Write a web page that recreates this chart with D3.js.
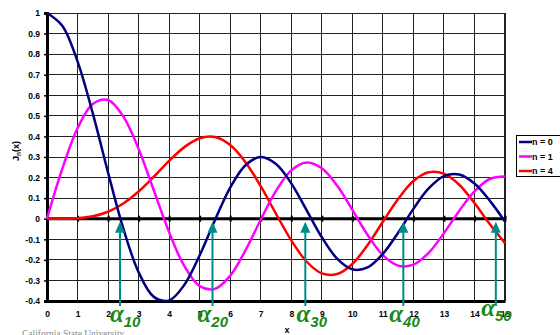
<!DOCTYPE html>
<html>
<head>
<meta charset="utf-8">
<script src="https://cdn.jsdelivr.net/npm/d3@7"></script>
<style>
  body { margin: 0; background: #fff; }
</style>
</head>
<body>
<svg id="Bessel" width="560" height="335" font-family="Arial, 'Liberation Sans', sans-serif"></svg>
<script>
// values, every 0.5 in x
var xs = [0, 0.5, 1, 1.5, 2, 2.5, 3, 3.5, 4, 4.5, 5, 5.5, 6, 6.5, 7, 7.5, 8, 8.5, 9, 9.5, 10, 10.5, 11, 11.5, 12, 12.5, 13, 13.5, 14, 14.5, 15];
var j0 = [1, 0.938, 0.765, 0.512, 0.224, -0.048, -0.260, -0.380, -0.397, -0.321, -0.178, -0.007, 0.151, 0.260, 0.300, 0.266, 0.172, 0.042, -0.090, -0.194, -0.246, -0.237, -0.171, -0.068, 0.048, 0.147, 0.207, 0.215, 0.171, 0.088, -0.014];
var j1 = [0, 0.242, 0.440, 0.558, 0.577, 0.497, 0.339, 0.137, -0.066, -0.231, -0.328, -0.341, -0.277, -0.154, -0.005, 0.135, 0.235, 0.273, 0.245, 0.161, 0.043, -0.079, -0.177, -0.228, -0.223, -0.166, -0.070, 0.038, 0.133, 0.193, 0.205];
var j4 = [0, 0.0002, 0.0025, 0.012, 0.034, 0.074, 0.132, 0.204, 0.281, 0.348, 0.391, 0.397, 0.358, 0.275, 0.158, 0.024, -0.105, -0.208, -0.266, -0.269, -0.220, -0.128, -0.015, 0.096, 0.183, 0.226, 0.219, 0.165, 0.076, -0.026, -0.119];

var seriesNames = ["n = 0", "n = 1", "n = 4"];
var seriesColors = ["#000080", "#ff00ff", "#ff0000"];

var xTicks = [0, 1, 2, 3, 4, 5, 6, 7, 8, 9, 10, 11, 12, 13, 14, 15];
var yTicks = [-0.4, -0.3, -0.2, -0.1, 0, 0.1, 0.2, 0.3, 0.4, 0.5, 0.6, 0.7, 0.8, 0.9, 1];
var yTickLabels = ["-0.4", "-0.3", "-0.2", "-0.1", "0", "0.1", "0.2", "0.3", "0.4", "0.5", "0.6", "0.7", "0.8", "0.9", "1"];

// green arrows under the zeros of J0
var arrowX = [2.39, 5.42, 8.46, 11.67, 14.7];
var arrowSub = ["10", "20", "30", "40", "50"];
var arrowLabelX = [2.06, 4.93, 8.17, 11.21, 14.22];

var svg = d3.select("#Bessel");
var x = d3.scaleLinear().domain([0, 15]).range([47, 505]);
var y = d3.scaleLinear().domain([-0.4, 1]).range([301, 13]);

svg.append("rect").attr("width", 560).attr("height", 335).attr("fill", "#fff");

var grid = svg.append("g").attr("stroke", "#222").attr("stroke-width", 1).attr("shape-rendering", "crispEdges");
grid.selectAll(".vg").data(xTicks.slice(1, -1)).enter().append("line")
    .attr("x1", function(d) { return x(d); }).attr("x2", function(d) { return x(d); })
    .attr("y1", y(1)).attr("y2", y(-0.4));
grid.selectAll(".hg").data(yTicks.slice(1)).enter().append("line")
    .attr("x1", x(0)).attr("x2", x(15))
    .attr("y1", function(d) { return y(d); }).attr("y2", function(d) { return y(d); });
grid.append("line").attr("x1", x(15)).attr("x2", x(15)).attr("y1", y(1)).attr("y2", y(-0.4)).attr("stroke-width", 2);

// bottom axis, labels only
var bottom = svg.append("g")
    .attr("transform", "translate(0," + y(-0.4) + ")")
    .call(d3.axisBottom(x).tickValues(xTicks).tickSize(0).tickPadding(10).tickFormat(d3.format("d")));
bottom.select(".domain").attr("stroke", "#000").attr("stroke-width", 3);
bottom.selectAll("text").attr("font-size", 8.5).attr("font-weight", "bold").attr("fill", "#000")
    .attr("font-family", "Arial, sans-serif");

// zero line with small ticks
var zero = svg.append("g")
    .attr("transform", "translate(0," + (y(0) - 3) + ")")
    .call(d3.axisBottom(x).tickValues(xTicks).tickSize(6).tickFormat(""));
zero.select(".domain").remove();
zero.selectAll("line").attr("stroke", "#000").attr("stroke-width", 2);
svg.append("line").attr("x1", x(0)).attr("x2", x(15)).attr("y1", y(0)).attr("y2", y(0))
    .attr("stroke", "#000").attr("stroke-width", 3);

var left = svg.append("g")
    .attr("transform", "translate(" + x(0) + ",0)")
    .call(d3.axisLeft(y).tickValues(yTicks).tickSize(3).tickPadding(4)
      .tickFormat(function(d, i) { return yTickLabels[i]; }));
left.select(".domain").attr("stroke", "#000").attr("stroke-width", 3);
left.selectAll("line").attr("stroke", "#000").attr("stroke-width", 1.5);
left.selectAll("text").attr("font-size", 8.5).attr("font-weight", "bold").attr("fill", "#000")
    .attr("font-family", "Arial, sans-serif");

var line = d3.line()
    .x(function(d, i) { return x(xs[i]); })
    .y(function(d) { return y(d); })
    .curve(d3.curveCatmullRom);

svg.append("g").selectAll("path")
    .data([j4, j1, j0]).enter().append("path")
    .attr("d", line)
    .attr("fill", "none")
    .attr("stroke", function(d, i) { return seriesColors[2 - i]; })
    .attr("stroke-width", 2.5);

// arrows
var arrows = svg.append("g");
arrows.selectAll("line").data(arrowX).enter().append("line")
    .attr("x1", function(d) { return x(d); }).attr("x2", function(d) { return x(d); })
    .attr("y1", 306).attr("y2", y(0) + 10)
    .attr("stroke", "#008b8b").attr("stroke-width", 2);
arrows.selectAll("path").data(arrowX).enter().append("path")
    .attr("d", function(d) {
      var cx = x(d), t = y(0) + 3;
      return "M" + cx + "," + t + "L" + (cx - 5) + "," + (t + 11) + "L" + (cx + 5) + "," + (t + 11) + "Z";
    })
    .attr("fill", "#008b8b");

var labels = svg.append("g").selectAll("text").data(arrowLabelX).enter().append("text")
    .attr("x", function(d) { return x(d); })
    .attr("y", function(d, i) { return i === 4 ? 316 : 322; })
    .attr("fill", "#168a16")
    .attr("font-style", "italic")
    .attr("font-weight", "bold")
    .attr("font-family", "'Liberation Serif', 'DejaVu Serif', serif")
    .attr("font-size", 25);
labels.append("tspan").text("α");
labels.append("tspan").attr("font-size", 15).attr("dy", 5)
    .attr("font-family", "Arial, sans-serif")
    .text(function(d, i) { return arrowSub[i]; });

// titles
svg.append("text").attr("x", 287).attr("y", 333).attr("text-anchor", "middle")
    .attr("font-size", 9).attr("font-weight", "bold").text("x");
var yt = svg.append("text").attr("transform", "translate(19,151) rotate(-90)").attr("text-anchor", "middle")
    .attr("font-size", 9).attr("font-weight", "bold");
yt.append("tspan").text("J");
yt.append("tspan").attr("font-size", 6.5).attr("dy", 2).text("n");
yt.append("tspan").attr("dy", -2).text("(x)");

// legend
var legend = svg.append("g");
legend.append("rect").attr("x", 516.5).attr("y", 135.5).attr("width", 50).attr("height", 41)
    .attr("fill", "#fff").attr("stroke", "#000");
var item = legend.selectAll(".item").data(seriesNames).enter().append("g")
    .attr("transform", function(d, i) { return "translate(0," + (142 + i * 14.5) + ")"; });
item.append("line").attr("x1", 519).attr("x2", 532)
    .attr("stroke", function(d, i) { return seriesColors[i]; }).attr("stroke-width", 2.5);
item.append("text").attr("x", 532).attr("dy", "0.35em")
    .attr("font-size", 9).attr("font-weight", "bold").text(function(d) { return d; });

svg.append("text").attr("x", 22).attr("y", 337)
    .attr("font-family", "'Liberation Serif', serif").attr("font-size", 9.5).attr("fill", "#888")
    .text("California State University");
</script>
</body>
</html>
